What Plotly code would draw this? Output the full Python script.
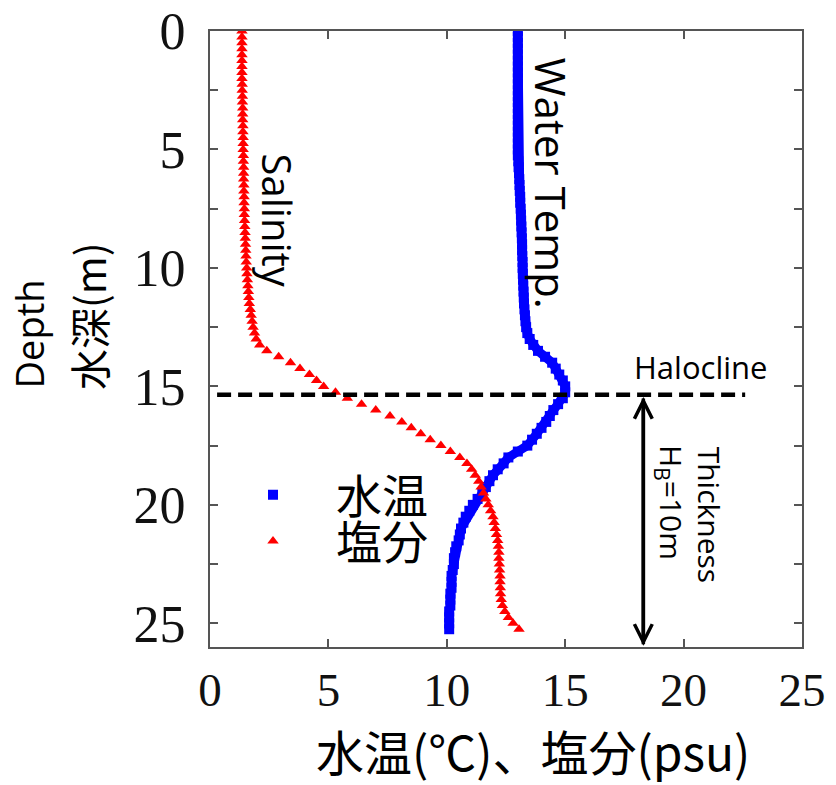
import plotly.graph_objects as go

# ---------------- data ----------------
depth_m = [
    0.0, 0.25, 0.5, 0.75, 1.0, 1.25, 1.5, 1.75, 2.0, 2.25, 2.5, 2.75,
    3.0, 3.25, 3.5, 3.75, 4.0, 4.25, 4.5, 4.75, 5.0, 5.25, 5.5, 5.75,
    6.0, 6.25, 6.5, 6.75, 7.0, 7.25, 7.5, 7.75, 8.0, 8.25, 8.5, 8.75,
    9.0, 9.25, 9.5, 9.75, 10.0, 10.25, 10.5, 10.75, 11.0, 11.25, 11.5, 11.75,
    12.0, 12.25, 12.5, 12.75, 13.0, 13.25, 13.5, 13.75, 14.0, 14.25, 14.5, 14.75,
    15.0, 15.25, 15.5, 15.75, 16.0, 16.25, 16.5, 16.75, 17.0, 17.25, 17.5, 17.75,
    18.0, 18.25, 18.5, 18.75, 19.0, 19.25, 19.5, 19.75, 20.0, 20.25, 20.5, 20.75,
    21.0, 21.25, 21.5, 21.75, 22.0, 22.25, 22.5, 22.75, 23.0, 23.25, 23.5, 23.75,
    24.0, 24.25, 24.5, 24.75, 25.0, 25.25,
]

water_temp_c = [
    13.0, 13.0, 13.0, 13.0,
    13.0, 13.0, 13.0, 13.0,
    13.0, 13.0, 13.0, 13.0,
    13.0, 13.0, 13.0, 13.0,
    13.0, 13.0, 13.0, 13.0,
    13.0, 13.0, 13.02, 13.03,
    13.05, 13.06, 13.07, 13.08,
    13.1, 13.1, 13.12, 13.13,
    13.14, 13.15, 13.16, 13.17,
    13.18, 13.18, 13.19, 13.2,
    13.2, 13.21, 13.22, 13.23,
    13.24, 13.25, 13.26, 13.28,
    13.3, 13.32, 13.35, 13.4,
    13.5, 13.65, 13.85, 14.15,
    14.45, 14.6, 14.75, 14.9,
    15.0, 15.0, 14.9, 14.7,
    14.5, 14.35, 14.2, 14.0,
    13.8, 13.6, 13.4, 13.0,
    12.6, 12.4, 12.15, 11.95,
    11.8, 11.65, 11.5, 11.3,
    11.1, 10.95, 10.8, 10.7,
    10.6, 10.55, 10.5, 10.4,
    10.35, 10.3, 10.3, 10.25,
    10.2, 10.2, 10.2, 10.15,
    10.15, 10.15, 10.1, 10.1,
    10.1, 10.1,
]

salinity_psu = [
    1.35, 1.35, 1.35, 1.35,
    1.35, 1.35, 1.35, 1.35,
    1.35, 1.36, 1.36, 1.37,
    1.37, 1.38, 1.38, 1.38,
    1.39, 1.39, 1.4, 1.4,
    1.4, 1.41, 1.41, 1.42,
    1.42, 1.42, 1.43, 1.43,
    1.44, 1.44, 1.45, 1.45,
    1.46, 1.47, 1.48, 1.49,
    1.5, 1.51, 1.52, 1.53,
    1.55, 1.56, 1.58, 1.6,
    1.62, 1.64, 1.66, 1.7,
    1.74, 1.78, 1.82, 1.88,
    1.95, 2.1, 2.4, 2.9,
    3.4, 3.8, 4.2, 4.5,
    4.8, 5.3, 5.8, 6.4,
    7.0, 7.6, 8.1, 8.5,
    8.9, 9.3, 9.75, 10.15,
    10.55, 10.85, 11.05, 11.2,
    11.35, 11.45, 11.55, 11.65,
    11.75, 11.85, 11.95, 12.0,
    12.05, 12.1, 12.15, 12.18,
    12.2, 12.2, 12.22, 12.23,
    12.25, 12.25, 12.26, 12.27,
    12.3, 12.35, 12.45, 12.6,
    12.8, 13.05,
]

series_names = ["水温", "塩分"]
x_ticks = [0, 5, 10, 15, 20, 25]
y_ticks = [0, 5, 10, 15, 20, 25]

halocline_depth = 15.35
halocline_x = [0.3, 22.6]
bottom_depth = 25.95
arrow_x = 18.3

# ---------------- figure ----------------
CJK = "Noto Sans CJK JP"
SANS = "Open Sans"
SERIF = "Liberation Serif"

fig = go.Figure()

# water temperature: dense blue squares forming a thick trace
fig.add_trace(go.Scatter(
    x=water_temp_c, y=depth_m, mode="lines",
    line=dict(color="#0000ff", width=9),
    showlegend=False, hoverinfo="skip",
))
fig.add_trace(go.Scatter(
    x=water_temp_c, y=depth_m, mode="markers", name=series_names[0],
    marker=dict(symbol="square", size=10, color="#0000ff", line=dict(width=0)),
    legend="legend",
))
fig.add_trace(go.Scatter(
    x=salinity_psu, y=depth_m, mode="markers", name=series_names[1],
    marker=dict(symbol="triangle-up", size=10, color="#ff0000", line=dict(width=0)),
    legend="legend2",
))

# halocline dashed line
fig.add_trace(go.Scatter(
    x=halocline_x, y=[halocline_depth, halocline_depth], mode="lines",
    line=dict(color="black", width=4.5, dash="14px,7px"),
    showlegend=False, hoverinfo="skip",
))

# double-headed thickness arrow (two full-length arrows, opposite heads)
top_tip = halocline_depth + 0.1
for tip, tail in ((top_tip, bottom_depth), (bottom_depth, top_tip)):
    fig.add_annotation(
        x=arrow_x, y=tip, ax=arrow_x, ay=tail, xref="x", yref="y",
        axref="x", ayref="y", text="", showarrow=True,
        arrowhead=5, arrowsize=1, arrowwidth=3.5, arrowcolor="black",
    )

# text labels
fig.add_annotation(x=2.83, y=8.0, xref="x", yref="y", text="Salinity",
                   textangle=90, showarrow=False,
                   font=dict(family=SANS, size=40, color="black"))
fig.add_annotation(x=14.4, y=6.45, xref="x", yref="y", text="Water Temp.",
                   textangle=90, showarrow=False,
                   font=dict(family=SANS, size=42, color="black"))
fig.add_annotation(x=20.7, y=14.2, xref="x", yref="y", text="Halocline",
                   showarrow=False,
                   font=dict(family=SANS, size=31, color="black"))
fig.add_annotation(x=21.1, y=20.4, xref="x", yref="y", text="Thickness",
                   textangle=90, showarrow=False,
                   font=dict(family=SANS, size=30, color="black"))
fig.add_annotation(x=19.4, y=19.9, xref="x", yref="y",
                   text="H<sub>B</sub>=10m",
                   textangle=90, showarrow=False,
                   font=dict(family=SANS, size=30, color="black"))

# axis titles
fig.add_annotation(x=0.546, y=-0.167, xref="paper", yref="paper",
                   xanchor="center", yanchor="middle",
                   text="水温(℃)、塩分(psu)", showarrow=False,
                   font=dict(family=CJK, size=48, color="black"))
fig.add_annotation(x=-0.306, y=0.417, xref="paper", yref="paper",
                   text="Depth", textangle=-90, showarrow=False,
                   xanchor="center", yanchor="bottom",
                   font=dict(family=SANS, size=38, color="black"))
fig.add_annotation(x=-0.206, y=0.414, xref="paper", yref="paper",
                   text="水深(m)", textangle=-90, showarrow=False,
                   xanchor="center", yanchor="bottom",
                   font=dict(family=CJK, size=41, color="black"))

axis_common = dict(
    showline=True, linecolor="#555555", linewidth=2, mirror="ticks",
    ticks="inside", ticklen=8, tickwidth=2, tickcolor="#555555",
    showgrid=False, zeroline=False, automargin=False,
)

fig.update_xaxes(
    range=[0, 25], tickvals=x_ticks, ticktext=[str(v) for v in x_ticks],
    tickfont=dict(family=SERIF, size=47, color="#111111"),
    ticklabelstandoff=1, **axis_common,
)
fig.update_yaxes(
    range=[26, 0], tickvals=y_ticks, ticktext=[str(v) for v in y_ticks],
    tickfont=dict(family=SERIF, size=52, color="#111111"),
    ticklabelstandoff=12,
    minor=dict(dtick=2.5, ticks="inside", ticklen=8, tickwidth=2,
               tickcolor="#555555", showgrid=False),
    **axis_common,
)

legend_common = dict(
    xanchor="left", yanchor="middle", bgcolor="rgba(0,0,0,0)",
    itemwidth=116, font=dict(family=CJK, size=46, color="black"),
)
fig.update_layout(
    width=836, height=785,
    margin=dict(l=210, r=34, t=31, b=138),
    paper_bgcolor="white", plot_bgcolor="white",
    showlegend=True,
    legend=dict(x=0.0, y=0.247, **legend_common),
    legend2=dict(x=0.0, y=0.172, **legend_common),
)

fig.write_html("out.html")
